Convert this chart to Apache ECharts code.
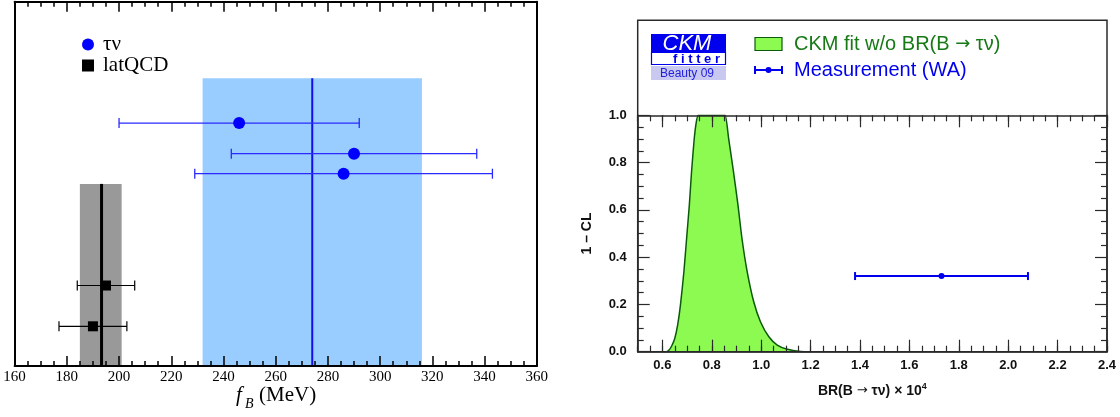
<!DOCTYPE html>
<html>
<head>
<meta charset="utf-8">
<title>f_B and BR(B → τν)</title>
<script src="https://cdn.jsdelivr.net/npm/echarts@6/dist/echarts.min.js"></script>
<style>
  html, body { margin: 0; padding: 0; background: #fff; }
  #chart { width: 1120px; height: 417px; }
</style>
</head>
<body>
<div id="chart"></div>
<script>
// left panel: f_B extracted from tau nu and lattice QCD
const tauNuFB = [246, 290, 286];
const tauNuLo = [200, 243, 229];
const tauNuHi = [292, 337, 343];
const tauNuRow = [6.67, 5.83, 5.28];
const tauNuBand = [232, 316, 274, 7.9];   // lo, hi, central, top

const latFB = [195, 190];
const latLo = [184, 177];
const latHi = [206, 203];
const latRow = [2.21, 1.09];
const latBand = [185, 201, 193.3, 5.0];

const fbLabels = [160, 180, 200, 220, 240, 260, 280, 300, 320, 340, 360];

// right panel: CKM fit without BR(B -> tau nu)
const brX = [0.6, 0.616, 0.628, 0.638, 0.65, 0.662, 0.673, 0.687, 0.698, 0.709, 0.718, 0.729, 0.737, 0.745,
    0.76, 0.78, 0.8, 0.82, 0.84, 0.854, 0.868, 0.888, 0.906, 0.922, 0.943, 0.97, 0.997, 1.031, 1.065, 1.106, 1.16, 1.2];
const oneMinusCL = [0, 0, 0.008, 0.025, 0.056, 0.115, 0.197, 0.338, 0.479, 0.62, 0.761, 0.903, 0.97, 1.0,
    1.0, 1.0, 1.0, 1.0, 1.0, 1.0, 0.903, 0.76, 0.62, 0.48, 0.34, 0.21, 0.127, 0.063, 0.028, 0.01, 0.001, 0];
const measurement = [1.73, 1.38, 2.08, 0.32];   // value, lo, hi, y
const brLabels = [0.6, 0.8, 1.0, 1.2, 1.4, 1.6, 1.8, 2.0, 2.2, 2.4];

const myChart = echarts.init(document.getElementById('chart'));

const serif = 'Liberation Serif';
const sans = 'Liberation Sans';
const frameL = '#000';
const frameR = '#2a2a2a';

// 横向误差棒
function errorBar(color, width, cap) {
    return function (params, api) {
        const lo = api.coord([api.value(0), api.value(2)]);
        const hi = api.coord([api.value(1), api.value(2)]);
        const st = { stroke: color, lineWidth: width };
        return {
            type: 'group',
            children: [
                { type: 'line', shape: { x1: lo[0], y1: lo[1], x2: hi[0], y2: hi[1] }, style: st },
                { type: 'line', shape: { x1: lo[0], y1: lo[1] - cap, x2: lo[0], y2: lo[1] + cap }, style: st },
                { type: 'line', shape: { x1: hi[0], y1: hi[1] - cap, x2: hi[0], y2: hi[1] + cap }, style: st }
            ]
        };
    };
}

// 平均值色带 + 中心线
function band(fill, lineColor, lineWidth) {
    return function (params, api) {
        const p0 = api.coord([api.value(0), 0]);
        const p1 = api.coord([api.value(1), api.value(3)]);
        const c0 = api.coord([api.value(2), 0]);
        const c1 = api.coord([api.value(2), api.value(3)]);
        return {
            type: 'group',
            children: [
                { type: 'rect', shape: { x: p0[0], y: p1[1], width: p1[0] - p0[0], height: p0[1] - p1[1] }, style: { fill: fill } },
                { type: 'line', shape: { x1: c0[0], y1: c0[1], x2: c1[0], y2: c1[1] }, style: { stroke: lineColor, lineWidth: lineWidth } }
            ]
        };
    };
}

// 坐标轴工厂：主刻度用 customValues，次刻度另开一根轴
function xAxisPair(gridIndex, min, max, majors, minorStep, position, opts) {
    const major = Object.assign({
        gridIndex: gridIndex, type: 'value', min: min, max: max, position: position, z: 10,
        axisLine: { show: true, onZero: false, lineStyle: { color: opts.color, width: opts.lineWidth } },
        axisTick: { show: true, inside: true, length: opts.major, customValues: majors, lineStyle: { color: opts.color, width: opts.tickWidth } },
        axisLabel: { show: false },
        splitLine: { show: false }
    }, opts.extra || {});
    const minor = {
        gridIndex: gridIndex, type: 'value', min: min, max: max, position: position, interval: minorStep, z: 10,
        axisLine: { show: false, onZero: false },
        axisTick: { show: true, inside: true, length: opts.minor, lineStyle: { color: opts.color, width: opts.tickWidth } },
        axisLabel: { show: false },
        splitLine: { show: false }
    };
    return [major, minor];
}

const leftStyle = { color: frameL, lineWidth: 2, tickWidth: 1.5, major: 10, minor: 5 };
const rightStyle = { color: frameR, lineWidth: 1.5, tickWidth: 1.2, major: 12, minor: 6 };

const leftBottom = xAxisPair(0, 160, 360, fbLabels, 5, 'bottom', Object.assign({}, leftStyle, {
    extra: { axisLabel: { customValues: fbLabels, fontFamily: serif, fontSize: 15, color: '#000', margin: 4 } }
}));
const leftTop = xAxisPair(0, 160, 360, fbLabels, 5, 'top', leftStyle);
const rightBottom = xAxisPair(1, 0.5, 2.4, brLabels, 0.05, 'bottom', Object.assign({}, rightStyle, {
    extra: {
        axisLabel: {
            customValues: brLabels, fontFamily: sans, fontWeight: 'bold', fontSize: 13, color: '#111', margin: 7,
            formatter: v => v.toFixed(1)
        },
        name: '{a|BR(B }{r|→}{a| τν) × 10}{b|4}',
        nameLocation: 'middle',
        nameGap: 30,
        nameTextStyle: {
            rich: {
                a: { fontFamily: sans, fontWeight: 'bold', fontSize: 14, color: '#111', lineHeight: 18 },
                r: { fontFamily: 'DejaVu Sans', fontSize: 13, color: '#111', lineHeight: 18 },
                b: { fontFamily: sans, fontWeight: 'bold', fontSize: 9, color: '#111', verticalAlign: 'top', lineHeight: 18 }
            }
        }
    }
}));
const rightTop = xAxisPair(1, 0.5, 2.4, brLabels, 0.05, 'top', rightStyle);

// 左图 y 轴只画边框
function leftY(position) {
    return {
        gridIndex: 0, type: 'value', min: 0, max: 10, interval: 5, position: position, z: 10,
        axisLine: { show: true, onZero: false, lineStyle: { color: frameL, width: 2 } },
        axisTick: { show: false },
        axisLabel: { show: false }, splitLine: { show: false }
    };
}

function rightY(position, extra) {
    return Object.assign({
        gridIndex: 1, type: 'value', min: 0, max: 1, interval: 0.2, position: position, z: 10,
        axisLine: { show: true, onZero: false, lineStyle: { color: frameR, width: 1.5 } },
        axisTick: { show: true, inside: true, length: 12, lineStyle: { color: frameR, width: 1.2 } },
        minorTick: { show: true, splitNumber: 4, length: 6, lineStyle: { color: frameR, width: 1.2 } },
        axisLabel: { show: false }, splitLine: { show: false }
    }, extra || {});
}

const option = {
    animation: false,
    grid: [
        { left: 14.6, right: 1120 - 536.8, top: 1.8, bottom: 417 - 366 },
        { left: 637.7, right: 1120 - 1107, top: 115.3, bottom: 417 - 351.7 }
    ],
    legend: {
        data: ['τν', 'latQCD'],
        orient: 'vertical',
        left: 77,
        top: 29,
        itemWidth: 12,
        itemHeight: 12,
        itemGap: 0,
        textStyle: { fontFamily: serif, fontSize: 21, color: '#000', lineHeight: 19, padding: [0, 0, 0, 4] }
    },
    // 0,1: 左下  2,3: 左上  4,5: 右下  6,7: 右上
    xAxis: [].concat(leftBottom, leftTop, rightBottom, rightTop),
    yAxis: [
        leftY('left'),
        leftY('right'),
        rightY('left', {
            axisLabel: { fontFamily: sans, fontWeight: 'bold', fontSize: 13, color: '#111', margin: 11, formatter: v => v.toFixed(1) },
            name: '1 – CL',
            nameLocation: 'middle',
            nameRotate: 90,
            nameGap: 44,
            nameTextStyle: { fontFamily: sans, fontWeight: 'bold', fontSize: 14, color: '#111' }
        }),
        rightY('right')
    ],
    series: [
        {
            type: 'custom', xAxisIndex: 0, yAxisIndex: 0, silent: true, z: 1,
            renderItem: band('#99ccff', '#1010ee', 2),
            data: [tauNuBand]
        },
        {
            type: 'custom', xAxisIndex: 0, yAxisIndex: 0, silent: true, z: 1,
            renderItem: band('#999999', '#000', 3),
            data: [latBand]
        },
        {
            type: 'custom', xAxisIndex: 0, yAxisIndex: 0, silent: true, z: 2,
            renderItem: errorBar('#2a2aff', 1.3, 5),
            data: tauNuLo.map((lo, i) => [lo, tauNuHi[i], tauNuRow[i]])
        },
        {
            type: 'custom', xAxisIndex: 0, yAxisIndex: 0, silent: true, z: 2,
            renderItem: errorBar('#000', 1.2, 5),
            data: latLo.map((lo, i) => [lo, latHi[i], latRow[i]])
        },
        {
            name: 'τν', type: 'scatter', xAxisIndex: 0, yAxisIndex: 0, z: 3,
            symbol: 'circle', symbolSize: 12,
            itemStyle: { color: '#0000ff', opacity: 1 },
            data: tauNuFB.map((v, i) => [v, tauNuRow[i]])
        },
        {
            name: 'latQCD', type: 'scatter', xAxisIndex: 0, yAxisIndex: 0, z: 3,
            symbol: 'rect', symbolSize: 10,
            itemStyle: { color: '#000', opacity: 1 },
            data: latFB.map((v, i) => [v, latRow[i]])
        },
        {
            type: 'line', xAxisIndex: 4, yAxisIndex: 2, z: 2,
            showSymbol: false, smooth: 0.2,
            lineStyle: { color: '#0b5a0b', width: 1.5 },
            areaStyle: { color: '#8cfa50', opacity: 1 },
            data: brX.map((x, i) => [x, oneMinusCL[i]])
        },
        {
            type: 'custom', xAxisIndex: 4, yAxisIndex: 2, silent: true, z: 3,
            renderItem: function (params, api) {
                const bar = errorBar('#0000ee', 2, 4)(params, api);
                const c = api.coord([api.value(3), api.value(2)]);
                bar.children.push({ type: 'circle', shape: { cx: c[0], cy: c[1], r: 3 }, style: { fill: '#0000ee' } });
                return bar;
            },
            data: [[measurement[1], measurement[2], measurement[3], measurement[0]]]
        }
    ],
    graphic: [
        // 右图外框
        { type: 'rect', shape: { x: 637.7, y: 20.3, width: 1107 - 637.7, height: 351.7 - 20.3 },
          style: { fill: 'none', stroke: frameR, lineWidth: 1.5 }, z: 10 },
        // f_B 轴标题
        { type: 'text', left: 236, top: 385, style: { text: 'f', font: 'italic 21px "Liberation Serif"', fill: '#000' } },
        { type: 'text', left: 245, top: 397, style: { text: 'B', font: 'italic 14px "Liberation Serif"', fill: '#000' } },
        { type: 'text', left: 259, top: 385, style: { text: '(MeV)', font: '21px "Liberation Serif"', fill: '#000' } },
        // CKMfitter logo
        { type: 'rect', shape: { x: 651, y: 34, width: 75, height: 19 }, style: { fill: '#0000ee' } },
        { type: 'text', x: 687, y: 43.5, style: { text: 'CKM', font: 'italic 22px "Liberation Sans"', fill: '#fff', align: 'center', verticalAlign: 'middle' } },
        { type: 'rect', shape: { x: 651.5, y: 52.5, width: 74, height: 12 }, style: { fill: '#fff', stroke: '#0000ee', lineWidth: 1.2 } },
        { type: 'text', x: 720, y: 59, style: { text: 'f i t t e r', font: 'bold 13px "Liberation Sans"', fill: '#0000ee', align: 'right', verticalAlign: 'middle' } },
        { type: 'rect', shape: { x: 651, y: 66, width: 75, height: 14 }, style: { fill: '#c8c8f0' } },
        { type: 'text', x: 687, y: 73.5, style: { text: 'Beauty 09', font: '12px "Liberation Sans"', fill: '#2020dd', align: 'center', verticalAlign: 'middle' } },
        // 右图图例
        { type: 'rect', shape: { x: 755, y: 37.5, width: 27, height: 13 }, style: { fill: '#8cfa50', stroke: '#0b5a0b', lineWidth: 1.2 } },
        { type: 'text', x: 794, y: 44.5, style: {
            text: '{a|CKM fit w/o BR(B }{r|→}{a| τν)}', verticalAlign: 'middle',
            rich: {
                a: { font: '20px "Liberation Sans"', fill: '#177a17' },
                r: { font: '18px "DejaVu Sans"', fill: '#177a17' }
            }
        } },
        { type: 'line', shape: { x1: 755, y1: 70, x2: 782, y2: 70 }, style: { stroke: '#0000ee', lineWidth: 2 } },
        { type: 'line', shape: { x1: 755, y1: 66, x2: 755, y2: 74 }, style: { stroke: '#0000ee', lineWidth: 2 } },
        { type: 'line', shape: { x1: 782, y1: 66, x2: 782, y2: 74 }, style: { stroke: '#0000ee', lineWidth: 2 } },
        { type: 'circle', shape: { cx: 768.5, cy: 70, r: 3 }, style: { fill: '#0000ee' } },
        { type: 'text', x: 794, y: 70.5, style: { text: 'Measurement (WA)', font: '20px "Liberation Sans"', fill: '#0000ee', verticalAlign: 'middle' } }
    ]
};

myChart.setOption(option);

window.addEventListener('resize', function () {
    myChart.resize();
});
</script>
</body>
</html>
